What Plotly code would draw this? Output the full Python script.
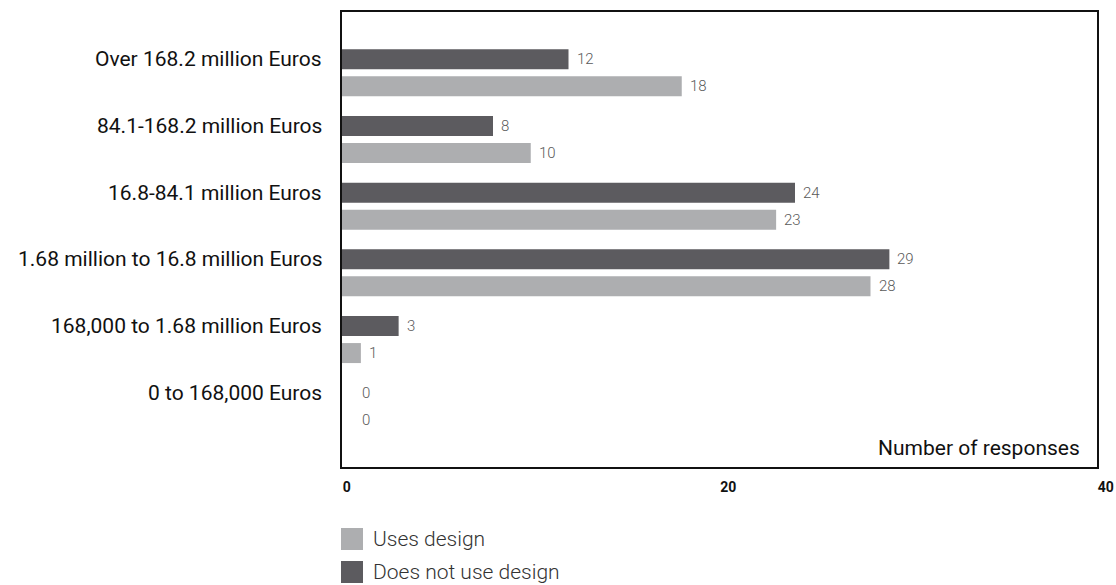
import plotly.graph_objects as go

# Annual turnover bands, listed top to bottom as drawn
categories = [
    "Over 168.2 million Euros",
    "84.1-168.2 million Euros",
    "16.8-84.1 million Euros",
    "1.68 million to 16.8 million Euros",
    "168,000 to 1.68 million Euros",
    "0 to 168,000 Euros",
]
does_not_use_design = [12, 8, 24, 29, 3, 0]
uses_design = [18, 10, 23, 28, 1, 0]

x_ticks = [0, 20, 40]
axis_title = "Number of responses"

DARK = "#5c5b5f"
LIGHT = "#adaeb0"
FONT = "Roboto"

fig = go.Figure()
fig.add_trace(go.Bar(
    name="Does not use design", y=categories, x=does_not_use_design,
    orientation="h", marker=dict(color=DARK, line=dict(width=0)),
    showlegend=False,
))
fig.add_trace(go.Bar(
    name="Uses design", y=categories, x=uses_design,
    orientation="h", marker=dict(color=LIGHT, line=dict(width=0)),
    showlegend=False,
))

annotations = []
# value labels to the right of each bar
for series, shift in ((does_not_use_design, 13.5), (uses_design, -13.5)):
    for cat, v in zip(categories, series):
        annotations.append(dict(
            x=v, y=cat, xref="x", yref="y", text=str(v), showarrow=False,
            xanchor="left", yanchor="middle", xshift=6 if v > 0 else 18,
            yshift=shift, font=dict(family=FONT, size=15, color="#5a5a5a", weight=300),
        ))

# category labels, aligned with the upper bar of each pair
for cat in categories:
    annotations.append(dict(
        x=0, y=cat, xref="paper", yref="y", text=cat, showarrow=False,
        xanchor="right", yanchor="middle", xshift=-18, yshift=13.5,
        font=dict(family=FONT, size=21, color="#111111", weight=400),
    ))

annotations.append(dict(
    x=1, y=0, xref="paper", yref="paper", text=axis_title, showarrow=False,
    xanchor="right", yanchor="middle", xshift=-15, yshift=19,
    font=dict(family=FONT, size=21, color="#111111", weight=400),
))

# legend drawn as swatches below the plot
legend_items = [("Uses design", LIGHT), ("Does not use design", DARK)]
shapes = []
for i, (label, color) in enumerate(legend_items):
    yc = -72 - 33 * i  # px below plot bottom
    shapes.append(dict(
        type="rect", xref="paper", yref="paper",
        xsizemode="pixel", ysizemode="pixel", xanchor=0, yanchor=0,
        x0=-1, x1=21, y0=yc - 11, y1=yc + 11,
        fillcolor=color, line=dict(width=0),
    ))
    annotations.append(dict(
        x=0, y=0, xref="paper", yref="paper", text=label, showarrow=False,
        xanchor="left", yanchor="middle", xshift=29, yshift=yc,
        font=dict(family=FONT, size=21, color="#333333", weight=300),
    ))

fig.update_layout(
    width=1116, height=585,
    margin=dict(l=342, r=19, t=12, b=118, autoexpand=False),
    paper_bgcolor="white", plot_bgcolor="white",
    barmode="group", bargap=0.191, bargroupgap=0.259,
    annotations=annotations, shapes=shapes,
    showlegend=False,
)
fig.update_xaxes(
    range=[0, 40], tickvals=x_ticks, ticktext=[str(t) for t in x_ticks],
    showgrid=False, zeroline=False,
    showline=True, linecolor="#111111", linewidth=1.5, mirror=True,
    ticks="", ticklabelposition="outside right", ticklabelstandoff=6,
    tickfont=dict(family=FONT, size=14, color="#111111", weight=700),
    automargin=False,
)
fig.update_yaxes(
    range=[5.91, -0.91], showticklabels=False, showgrid=False, zeroline=False,
    showline=True, linecolor="#111111", linewidth=1.5, mirror=True, ticks="",
    automargin=False,
)

fig.write_html("out.html")
